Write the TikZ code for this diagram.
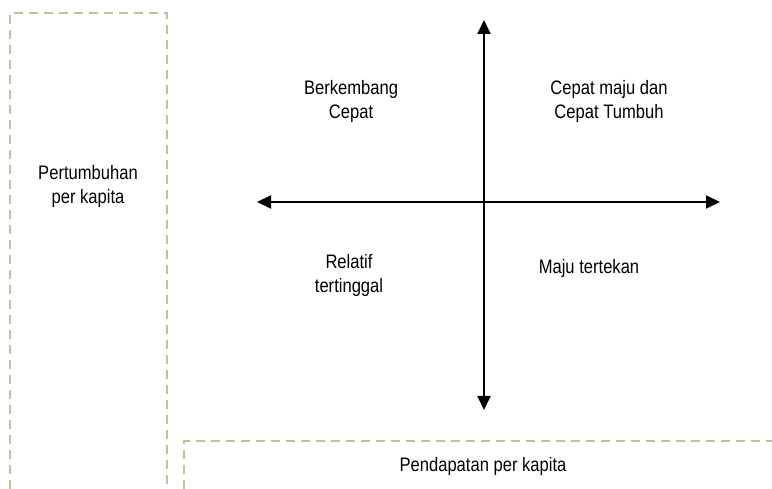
\documentclass[tikz,border=0pt]{standalone}
\usepackage{fontspec}
\setmainfont{Liberation Sans}[FakeStretch=0.85]
\usepackage{xcolor}
\usepackage{tikz}
\usetikzlibrary{arrows.meta}

\definecolor{framecolor}{RGB}{200,191,150}

\begin{document}
\begin{tikzpicture}[x=1pt,y=-1pt]
			\tikzstyle{label} = [align=center, font=\fontsize{19.5}{24}\selectfont]
			\tikzstyle{frame} = [draw=framecolor, line width=1.5pt, dash pattern=on 9pt off 6pt]
			\tikzset{edge/.style = {line width=2pt, {Triangle[length=14pt,width=13pt]}-{Triangle[length=14pt,width=13pt]}}}
			
			\useasboundingbox (0,0) rectangle (772,489);
			
			\draw[frame] (10,489) -- (10,13) -- (167,13) -- (167,489);
			\draw[frame] (184,489) -- (184,441) -- (772,441);
			
			\coordinate (west) at (257,202);
			\coordinate (east) at (720,202);
			\coordinate (north) at (484,20);
			\coordinate (south) at (484,410);
			\draw[edge](west) to (east);
			\draw[edge](south) to (north);
			
			\node[label](growth) at (88,186) {Pertumbuhan\\per kapita};
			\node[label](developing) at (351,101) {Berkembang\\Cepat};
			\node[label](advanced) at (609,101) {Cepat maju dan\\Cepat Tumbuh};
			\node[label](behind) at (349,275) {Relatif\\tertinggal};
			\node[label](pressed) at (589,268) {Maju tertekan};
			\node[label](income) at (483,466) {Pendapatan per kapita};
			
\end{tikzpicture}
\end{document}
